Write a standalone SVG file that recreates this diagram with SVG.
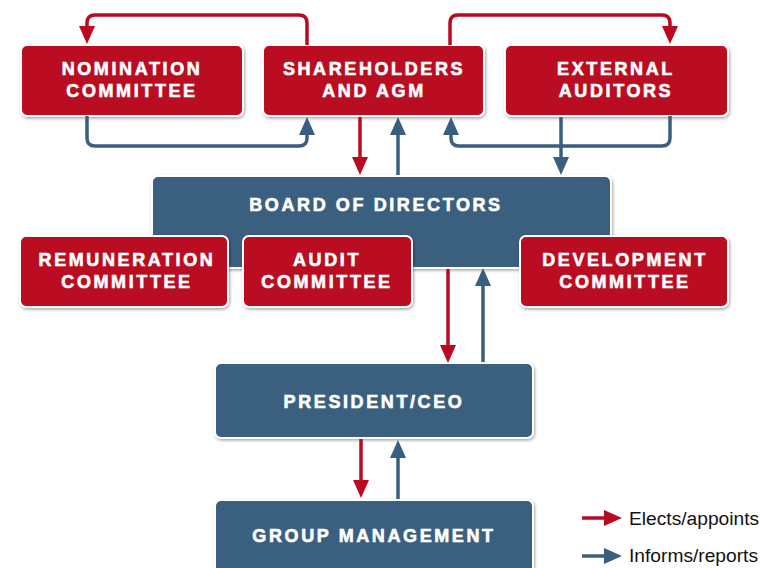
<svg xmlns="http://www.w3.org/2000/svg" width="760" height="568" viewBox="0 0 760 568">
<defs>
<filter id="sh" x="-10%" y="-10%" width="120%" height="130%"><feDropShadow dx="1" dy="1.5" stdDeviation="1.5" flood-color="#000" flood-opacity="0.35"/></filter>
<marker id="ar" viewBox="0 0 18 16" refX="0" refY="8" markerWidth="18" markerHeight="16" markerUnits="userSpaceOnUse" orient="auto"><path d="M0,0 L18,8 L0,16 z" fill="#BA0A22"/></marker>
<marker id="ab" viewBox="0 0 18 16" refX="0" refY="8" markerWidth="18" markerHeight="16" markerUnits="userSpaceOnUse" orient="auto"><path d="M0,0 L18,8 L0,16 z" fill="#3A5E7F"/></marker>
<style>
.r{fill:#BA0A22;stroke:#fff;stroke-width:2;filter:url(#sh)}
.b{fill:#3A5E7F;stroke:#fff;stroke-width:2;filter:url(#sh)}
.t{font-family:"Liberation Sans",Arial,sans-serif;font-weight:bold;font-size:18px;letter-spacing:2.6px;fill:#fff;stroke:#fff;stroke-width:0.6;text-anchor:middle}
.cr{fill:none;stroke:#BA0A22;stroke-width:3.5;marker-end:url(#ar)}
.cb{fill:none;stroke:#3A5E7F;stroke-width:3.5;marker-end:url(#ab)}
.lg{font-family:"Liberation Sans",Arial,sans-serif;font-size:19.2px;fill:#111}
</style>
</defs>
<g id="board"><rect class="b" x="152" y="176" width="459" height="92" rx="6"/><text class="t" x="376" y="211">BOARD OF DIRECTORS</text></g>
<g id="nomination"><rect class="r" x="21" y="45" width="222" height="71" rx="6"/><text class="t" x="132" y="75">NOMINATION</text><text class="t" x="132" y="97">COMMITTEE</text></g>
<g id="shareholders"><rect class="r" x="263" y="45" width="221" height="71" rx="6"/><text class="t" x="374" y="75">SHAREHOLDERS</text><text class="t" x="374" y="97">AND AGM</text></g>
<g id="auditors"><rect class="r" x="505" y="45" width="223" height="71" rx="6"/><text class="t" x="616" y="75">EXTERNAL</text><text class="t" x="616" y="97">AUDITORS</text></g>
<g id="remuneration"><rect class="r" x="20" y="236" width="208" height="71" rx="6"/><text class="t" x="127" y="266">REMUNERATION</text><text class="t" x="127" y="288">COMMITTEE</text></g>
<g id="audit"><rect class="r" x="243" y="236" width="169" height="71" rx="6"/><text class="t" x="327" y="266">AUDIT</text><text class="t" x="327" y="288">COMMITTEE</text></g>
<g id="development"><rect class="r" x="520" y="236" width="208" height="71" rx="6"/><text class="t" x="625" y="266">DEVELOPMENT</text><text class="t" x="625" y="288">COMMITTEE</text></g>
<g id="president"><rect class="b" x="215" y="363" width="318" height="75" rx="6"/><text class="t" x="374" y="408">PRESIDENT/CEO</text></g>
<g id="group"><rect class="b" x="215" y="500" width="318" height="80" rx="6"/><text class="t" x="374" y="542">GROUP MANAGEMENT</text></g>
<g id="connectors">
<path class="cr" d="M307,45 V23 Q307,15 299,15 H95 Q87,15 87,23 V26"/>
<path class="cb" d="M87,116 V138 Q87,146 95,146 H299 Q307,146 307,138 V135"/>
<path class="cr" d="M450,45 V23 Q450,15 458,15 H662 Q670,15 670,23 V26"/>
<path class="cb" d="M670,116 V138 Q670,146 662,146 H459 Q451,146 451,138 V135"/>
<path class="cr" d="M360,117 V157"/>
<path class="cb" d="M398,175 V135"/>
<path class="cb" d="M561,117 V157"/>
<path class="cr" d="M448,269 V345"/>
<path class="cb" d="M483,362 V286"/>
<path class="cr" d="M361,439 V480"/>
<path class="cb" d="M398,499 V458"/>
</g>
<g id="legend">
<path class="cr" d="M582,518 H604"/>
<text class="lg" x="629" y="525">Elects/appoints</text>
<path class="cb" d="M582,556 H604"/>
<text class="lg" x="629" y="562">Informs/reports</text>
</g>
</svg>
